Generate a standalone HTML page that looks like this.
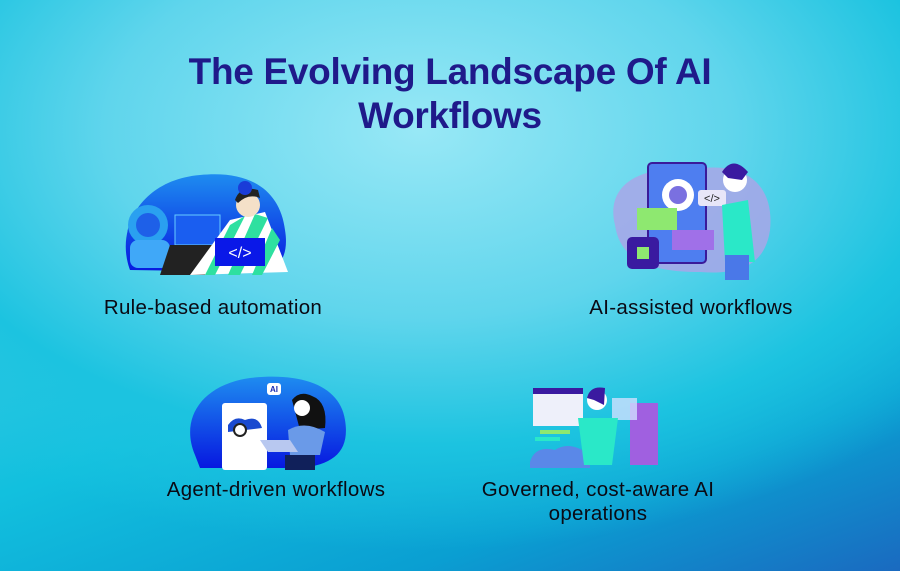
<!DOCTYPE html>
<html><head><meta charset="utf-8"><style>
html,body{margin:0;padding:0}
body{width:900px;height:571px;position:relative;overflow:hidden;
background:radial-gradient(ellipse 700px 420px at 420px 130px,#98e8f6 0%,#5fd5ec 45%,#1cc3e0 75%,rgba(28,195,224,0) 100%),linear-gradient(160deg,#6fd8ee 0%,#12c0de 55%,#0a9fd2 80%,#1a6ac0 100%);
font-family:"Liberation Sans",sans-serif}
.t{position:absolute;left:0;width:900px;text-align:center;color:#1f1a8a;font-weight:bold;font-size:37px;letter-spacing:-0.3px}
.l{position:absolute;color:#0a0a14;font-size:20.5px;text-align:center;line-height:24px;letter-spacing:0.3px}
svg{position:absolute;left:0;top:0}
</style></head><body>
<div class="t" style="top:51px">The Evolving Landscape Of AI</div>
<div class="t" style="top:95px">Workflows</div>
<div class="l" style="left:40px;width:346px;top:296px">Rule-based automation</div>
<div class="l" style="left:520px;width:342px;top:296px">AI-assisted workflows</div>
<div class="l" style="left:100px;width:352px;top:478px">Agent-driven workflows</div>
<div class="l" style="left:420px;width:356px;top:478px">Governed, cost-aware AI<br>operations</div>
<svg width="900" height="571">
<defs>
<linearGradient id="bl" x1="0" y1="0" x2="0" y2="1"><stop offset="0" stop-color="#1e8cf0"/><stop offset="1" stop-color="#0718e0"/></linearGradient>
</defs>
<path d="M130 270 C115 230 140 180 200 175 C250 170 280 190 285 230 C290 260 275 272 260 272 Z" fill="url(#bl)"/>
<circle cx="148" cy="225" r="20" fill="#2aa0f0"/><circle cx="148" cy="225" r="12" fill="#1e60e8"/>
<rect x="130" y="240" width="40" height="28" rx="8" fill="#40a8f8"/>
<rect x="175" y="215" width="45" height="30" fill="#1a5ef0" stroke="#6cf" stroke-width="1"/>
<polygon points="170,245 215,245 205,275 160,275" fill="#222"/>
<path d="M190 275 L230 220 L265 212 L288 272 Z" fill="#fff"/>
<path d="M230 225 L245 216 L215 275 L205 275 Z M255 214 L268 218 L240 275 L228 275 Z M272 228 L280 240 L262 275 L252 275 Z" fill="#2ee0a0"/>
<circle cx="248" cy="205" r="12" fill="#f4e0c8"/><path d="M235 200 Q240 185 258 190 L260 198 Q248 193 238 203Z" fill="#222"/>
<rect x="215" y="238" width="50" height="28" fill="#0a18e8"/>
<text x="240" y="258" font-size="16" fill="#fff" text-anchor="middle" font-family="Liberation Sans">&lt;/&gt;</text>
<circle cx="245" cy="188" r="7" fill="#1a3cd8"/>
<path d="M615 225 C605 185 640 165 690 170 C740 160 775 180 770 230 C765 265 740 275 700 272 C650 272 620 260 615 225Z" fill="#a9a6e8" opacity=".85"/>
<rect x="648" y="163" width="58" height="100" rx="4" fill="#4e7ef0" stroke="#3a1a9a" stroke-width="2"/>
<circle cx="678" cy="195" r="16" fill="#fff"/><circle cx="678" cy="195" r="9" fill="#7a70e0"/>
<rect x="637" y="208" width="40" height="22" fill="#8ee870"/>
<rect x="672" y="230" width="42" height="20" fill="#a070e8"/>
<rect x="627" y="237" width="32" height="32" rx="5" fill="#3a1aa0"/><rect x="637" y="247" width="12" height="12" fill="#8ee870"/>
<rect x="698" y="190" width="28" height="16" rx="3" fill="#e8e6f8"/>
<text x="712" y="202" font-size="11" fill="#222" text-anchor="middle" font-family="Liberation Sans">&lt;/&gt;</text>
<path d="M722 205 L748 200 L755 262 L725 262 Z" fill="#2ae8c8"/>
<circle cx="735" cy="180" r="12" fill="#fff"/><path d="M722 172 Q733 155 748 172 L742 180 L728 178 Z" fill="#3a1aa0"/>
<rect x="725" y="255" width="24" height="25" fill="#4a78e8"/>
<path d="M195 455 C180 420 200 385 250 378 C300 372 340 385 345 420 C350 450 335 465 300 468 L200 468 Z" fill="url(#bl)"/>
<rect x="222" y="403" width="45" height="67" rx="3" fill="#fff"/>
<path d="M228 425 Q235 415 245 420 Q258 415 262 428 L228 432Z" fill="#1a4ad0"/>
<circle cx="240" cy="430" r="6" fill="#fff" stroke="#222" stroke-width="2"/>
<rect x="267" y="383" width="14" height="12" rx="3" fill="#fff"/><text x="274" y="392" font-size="8" fill="#1a2ab0" text-anchor="middle" font-weight="bold">AI</text>
<path d="M292 400 Q300 390 312 396 Q328 402 325 428 L300 430 Z" fill="#111"/>
<circle cx="302" cy="408" r="8" fill="#fff"/>
<path d="M288 430 Q305 420 325 432 L320 455 L290 455Z" fill="#6a9ae8"/>
<polygon points="260,440 290,440 298,452 268,452" fill="#b8c8f0"/>
<rect x="285" y="455" width="30" height="15" fill="#10205a"/>
<path d="M530 462 Q535 445 555 450 Q570 440 590 455 L590 468 L530 468Z" fill="#5a88e8"/>
<rect x="533" y="388" width="50" height="38" fill="#eef0fa"/><rect x="533" y="388" width="50" height="6" fill="#3a1aa0"/>
<rect x="630" y="403" width="28" height="62" fill="#a060e0"/>
<rect x="612" y="398" width="25" height="22" fill="#cfe0ff" opacity=".8"/>
<circle cx="597" cy="400" r="10" fill="#fff"/><path d="M587 398 Q590 385 605 388 L604 405 L594 400Z" fill="#3a1aa0"/>
<path d="M578 418 L618 418 L612 465 L584 465 Z" fill="#2ae8c8"/>
<rect x="540" y="430" width="30" height="4" fill="#8ee870"/><rect x="535" y="437" width="25" height="4" fill="#2ae8c8"/>
</svg>
</body></html>
